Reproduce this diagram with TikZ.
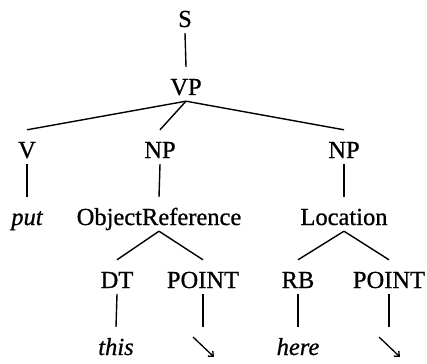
\documentclass[tikz,border=0pt]{standalone}
\usepackage{fontspec}
\setmainfont[FakeBold=0.8]{Liberation Serif}
\usetikzlibrary{arrows.meta}
\begin{document}
\begin{tikzpicture}[x=1pt,y=-1pt,
  tn/.style={anchor=base,inner sep=0pt,text height=28pt,text depth=6pt,font=\fontsize{24.5}{28}\selectfont},
  leaf/.style={tn,font=\fontsize{24.5}{28}\selectfont\itshape},
  edge/.style={line width=1.4pt},
  ptr/.style={line width=1.3pt,-{Straight Barb[length=4pt,width=7pt]}}]
\useasboundingbox (0,0) rectangle (427,363);
\node[tn] (S) at (185,27) {S};
\node[tn] (VP) at (186,95) {VP};
\node[tn] (V) at (27,158) {V};
\node[tn] (NPa) at (160,158) {NP};
\node[tn] (NPb) at (344,158) {NP};
\node[leaf] (put) at (27,225) {put};
\node[tn] (OR) at (159,225) {ObjectReference};
\node[tn] (Loc) at (344,225) {Location};
\node[tn] (DT) at (117,288) {DT};
\node[tn] (PTa) at (203,288) {POINT};
\node[tn] (RB) at (298,288) {RB};
\node[tn] (PTb) at (389,288) {POINT};
\node[leaf] (this) at (116,355) {this};
\node[tn] (arA) at (203,355) {};
\node[leaf] (here) at (298,355) {here};
\node[tn] (arB) at (389,355) {};
\draw[edge] (S.south) -- (VP.north);
\draw[edge] (VP.south) -- (V.north);
\draw[edge] (VP.south) -- (NPa.north);
\draw[edge] (VP.south) -- (NPb.north);
\draw[edge] (V.south) -- (put.north);
\draw[edge] (NPa.south) -- (OR.north);
\draw[edge] (NPb.south) -- (Loc.north);
\draw[edge] (OR.south) -- (DT.north);
\draw[edge] (OR.south) -- (PTa.north);
\draw[edge] (Loc.south) -- (RB.north);
\draw[edge] (Loc.south) -- (PTb.north);
\draw[edge] (DT.south) -- (this.north);
\draw[edge] (PTa.south) -- (arA.north);
\draw[edge] (RB.south) -- (here.north);
\draw[edge] (PTb.south) -- (arB.north);
\draw[ptr] ([shift={(-10,-18)}]arA.base) -- ([shift={(11,2)}]arA.base);
\draw[ptr] ([shift={(-10,-18)}]arB.base) -- ([shift={(11,2)}]arB.base);
\end{tikzpicture}
\end{document}
